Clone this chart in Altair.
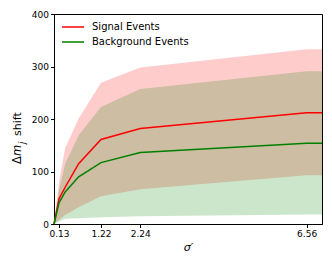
import altair as alt
import pandas as pd

sigma = [0, 0.13, 0.29, 0.64, 1.22, 2.24, 6.56, 6.96]
signal = [0, 48, 70, 115, 161, 182, 212, 212]
background = [0, 40, 61, 90, 117, 136, 154, 154]
signal_hi = [0, 80, 145, 201, 269, 298, 333, 333]
signal_lo = [0, 8, 17, 32, 53, 66, 93, 93]
bkg_hi = [0, 65, 115, 169, 223, 257, 291, 291]
bkg_lo = [0, 5, 10, 11, 13, 15, 18, 18]
x_ticks = [0.13, 1.22, 2.24, 6.56]
series = ["Signal Events", "Background Events"]
colors = ["#ff0000", "#008000"]

band = pd.DataFrame({"x": sigma, "s_hi": signal_hi, "s_lo": signal_lo,
                     "b_hi": bkg_hi, "b_lo": bkg_lo})
lines = pd.DataFrame({
    "x": sigma * 2,
    "y": signal + background,
    "series": [series[0]] * len(sigma) + [series[1]] * len(sigma),
})

xs = alt.Scale(domain=[0, 6.96], nice=False, zero=False)
ys = alt.Scale(domain=[0, 400], nice=False)

xaxis = alt.Axis(values=x_ticks, format=".2f", title="σ′", grid=False,
                 titleFontStyle="italic", titleFontWeight="normal",
                 titleFontSize=11, titlePadding=3)
yaxis = alt.Axis(values=list(range(0, 401, 50)), title=None, grid=False)

base = alt.Chart(band)
red_band = base.mark_area(color=colors[0], opacity=0.2).encode(
    x=alt.X("x:Q", scale=xs, axis=xaxis),
    y=alt.Y("s_hi:Q", scale=ys, axis=yaxis),
    y2="s_lo:Q",
)
green_band = base.mark_area(color=colors[1], opacity=0.2).encode(
    x=alt.X("x:Q", scale=xs),
    y=alt.Y("b_hi:Q", scale=ys),
    y2="b_lo:Q",
)
line_layer = alt.Chart(lines).mark_line(strokeWidth=1.5).encode(
    x=alt.X("x:Q", scale=xs),
    y=alt.Y("y:Q", scale=ys),
    color=alt.Color("series:N",
                    scale=alt.Scale(domain=series, range=colors),
                    legend=None),
    order="x:Q",
)

tfont = "DejaVu Sans"

# manual legend (top-left inside the axes)
legend_layers = []
for i, (name, col) in enumerate(zip(series, colors)):
    yy = 13 + 15 * i
    legend_layers.append(
        alt.Chart(pd.DataFrame({"s": [name]})).mark_rule(color=col, strokeWidth=1.5).encode(
            x=alt.value(8), x2=alt.value(30), y=alt.value(yy))
    )
    legend_layers.append(
        alt.Chart(pd.DataFrame({"s": [name]})).mark_text(
            align="left", baseline="middle", fontSize=10, font=tfont, color="black"
        ).encode(text="s:N", x=alt.value(38), y=alt.value(yy))
    )

# y-axis title: "Δm_j shift" built from rotated text pieces
ytitle = [
    alt.Chart(pd.DataFrame({"t": ["Δ"]})).mark_text(
        angle=270, align="left", baseline="middle", fontSize=11.5, font=tfont, color="black"
    ).encode(text="t:N", x=alt.value(-36), y=alt.value(150)),
    alt.Chart(pd.DataFrame({"t": ["m"]})).mark_text(
        angle=270, align="left", baseline="middle", fontSize=11.5, font=tfont,
        fontStyle="italic", color="black"
    ).encode(text="t:N", x=alt.value(-36), y=alt.value(142)),
    alt.Chart(pd.DataFrame({"t": ["j"]})).mark_text(
        angle=270, align="left", baseline="middle", fontSize=8.5, font=tfont,
        fontStyle="italic", color="black"
    ).encode(text="t:N", x=alt.value(-32.5), y=alt.value(130)),
    alt.Chart(pd.DataFrame({"t": ["shift"]})).mark_text(
        angle=270, align="left", baseline="middle", fontSize=11, font=tfont, color="black"
    ).encode(text="t:N", x=alt.value(-36), y=alt.value(122)),
]

chart = alt.layer(red_band, green_band, line_layer, *legend_layers, *ytitle).properties(
    width=268, height=210,
    autosize=alt.AutoSizeParams(type="none"),
    padding={"left": 46, "top": 6, "right": 2, "bottom": 34},
).configure_view(stroke="black", strokeWidth=1).configure_axis(
    labelFontSize=9, labelColor="black", tickColor="black", domainColor="black",
    titleColor="black", tickSize=3.5, labelFont="DejaVu Sans", titleFont="DejaVu Sans",
    labelPadding=2,
)

chart.save("out.html", embed_options={"renderer": "svg", "actions": False})
